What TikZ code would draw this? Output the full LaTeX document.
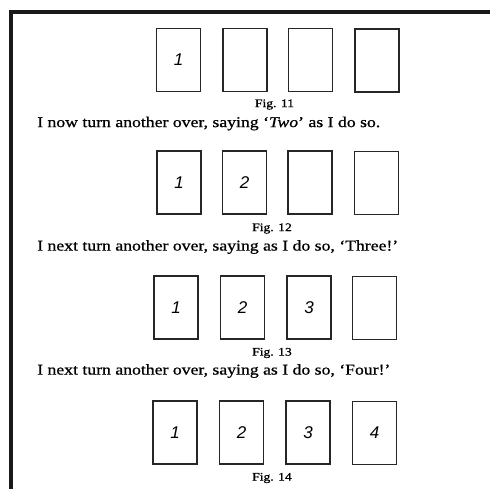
\documentclass[tikz,border=0pt]{standalone}
\usepackage{fontspec}
\setmainfont{Liberation Serif}[FakeStretch=1.18, FakeBold=0.8]
\newfontfamily\handfont{Liberation Sans}
\begin{document}
\begin{tikzpicture}[x=1pt,y=-1pt,
  card/.style={draw=black!85, line width=1.6pt, minimum width=44pt, minimum height=63pt, inner sep=0pt, font=\handfont\itshape\fontsize{17}{17}\selectfont},
  caption/.style={font=\fontsize{11.5}{13}\selectfont, inner sep=0pt},
  line/.style={font=\fontsize{15}{18}\selectfont, inner sep=0pt, anchor=west}]
\useasboundingbox (0,0) rectangle (490,488);
\fill[white] (0,0) rectangle (490,488);
\draw[line width=4pt, black!90] (10.5,490) -- (10.5,11.5) -- (492,11.5);
% Fig 11
\node[card] (a1) at (178.5,60) {1};
\node[card] (a2) at (245,60) {};
\node[card] (a3) at (310.5,60) {};
\node[card] (a4) at (377,60.5) {};
\node[caption] (f11) at (274.5,104.5) {Fig. 11};
\node[line] (t1) at (37,123.5) {I now turn another over, saying `\textit{Two}' as I do so.};
% Fig 12
\node[card] (b1) at (179,182.5) {1};
\node[card] (b2) at (244.5,182.5) {2};
\node[card] (b3) at (310,182.5) {};
\node[card] (b4) at (376.5,183) {};
\node[caption] (f12) at (272,228.5) {Fig. 12};
\node[line] (t2) at (37,247) {I next turn another over, saying as I do so, `Three!'};
% Fig 13
\node[card] (c1) at (176,307.5) {1};
\node[card] (c2) at (242.5,307.5) {2};
\node[card] (c3) at (309,307.5) {3};
\node[card] (c4) at (374.5,308) {};
\node[caption] (f13) at (272,353) {Fig. 13};
\node[line] (t3) at (37,371) {I next turn another over, saying as I do so, `Four!'};
% Fig 14
\node[card] (d1) at (175,432.5) {1};
\node[card] (d2) at (241.5,432.5) {2};
\node[card] (d3) at (308,432.5) {3};
\node[card] (d4) at (374.5,433) {4};
\node[caption] (f14) at (272,478) {Fig. 14};
\end{tikzpicture}
\end{document}
